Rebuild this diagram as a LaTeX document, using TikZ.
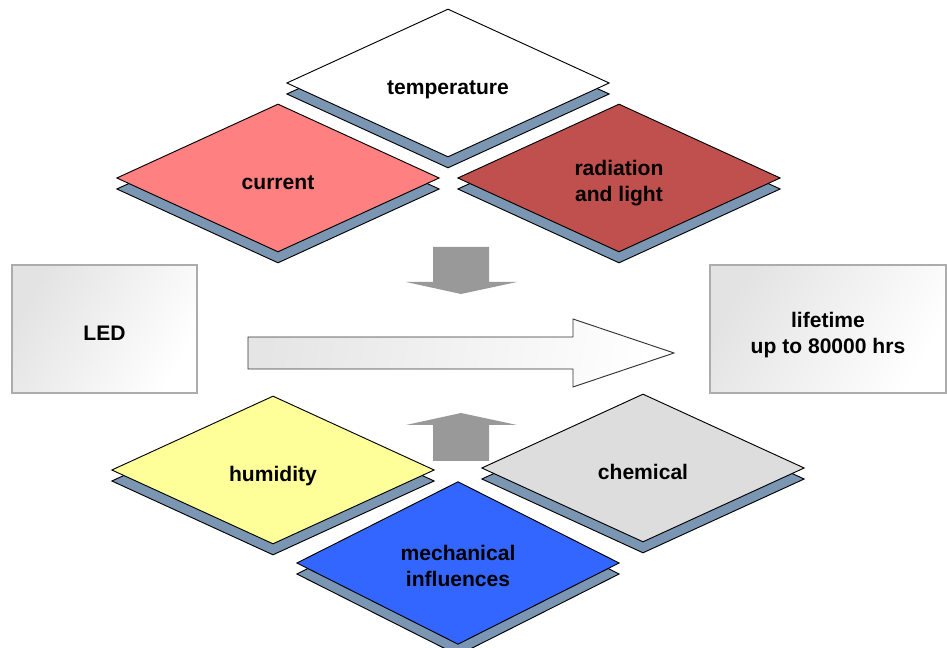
\documentclass[tikz,border=0pt]{standalone}
\usepackage{fontspec}
\setmainfont{Liberation Sans}
\usetikzlibrary{shapes.geometric,shadows}
\definecolor{shadowblue}{RGB}{122,150,178}
\definecolor{currentred}{RGB}{255,128,128}
\definecolor{radred}{RGB}{192,80,77}
\definecolor{humyellow}{RGB}{255,255,153}
\definecolor{chemgray}{RGB}{221,221,221}
\definecolor{mechblue}{RGB}{51,102,255}
\definecolor{arrowgray}{RGB}{153,153,153}
\begin{document}
\begin{tikzpicture}[x = 0.75pt, y = -0.75pt,
        factor/.style = {diamond, draw = black, line width = 0.7pt, inner sep = 0pt, minimum width = 242pt, minimum height = 111pt, align = center, font = \fontsize{15.8}{19.5}\selectfont\bfseries, copy shadow = {shadow xshift = 0pt, shadow yshift = -8.25pt, fill = shadowblue, draw = black}},
        box/.style = {draw = gray!65, line width = 1pt, left color = gray!22, right color = white, shading angle = 60, align = center, minimum height = 96pt, font = \fontsize{15.8}{19.5}\selectfont\bfseries},
        oneline/.style = {text height = 17.5pt, text depth = 0pt},
        twoline/.style = {text height = 36pt, text depth = 0pt},
        blockarrow/.style = {fill = arrowgray, draw = none}]
    \useasboundingbox (0, 0) rectangle (947, 648);
    % the two boxes
    \node[box, oneline, minimum width = 138.75pt] (led) at (104.5, 329) {LED};
    \node[box, twoline, text height = 37pt, minimum width = 177pt] (lifetime) at (828, 329) {lifetime\\up to 80000 hrs};
    % arrows
    \fill[blockarrow] (433, 247) -- (489, 247) -- (489, 282) -- (517, 282) -- (461, 294) -- (406, 282) -- (433, 282) -- cycle;
    \fill[blockarrow] (461, 413) -- (517, 425) -- (489, 425) -- (489, 461) -- (433, 461) -- (433, 425) -- (406, 425) -- cycle;
    \draw[draw = black!80, line width = 0.7pt, left color = gray!20, right color = white, shading angle = 80] (248, 337) -- (573, 337) -- (573, 319) -- (674, 353) -- (573, 387) -- (573, 369) -- (248, 369) -- cycle;
    % influences
    \node[factor, oneline, fill = white] (temp) at (448, 83) {temperature};
    \node[factor, oneline, fill = currentred] (current) at (278, 178) {current};
    \node[factor, twoline, fill = radred] (radiation) at (619, 178) {radiation\\and light};
    \node[factor, oneline, fill = humyellow] (humidity) at (273, 470) {humidity};
    \node[factor, oneline, fill = chemgray] (chemical) at (643, 468) {chemical};
    \node[factor, twoline, fill = mechblue] (mech) at (458, 563) {mechanical\\influences};
\end{tikzpicture}
\end{document}
